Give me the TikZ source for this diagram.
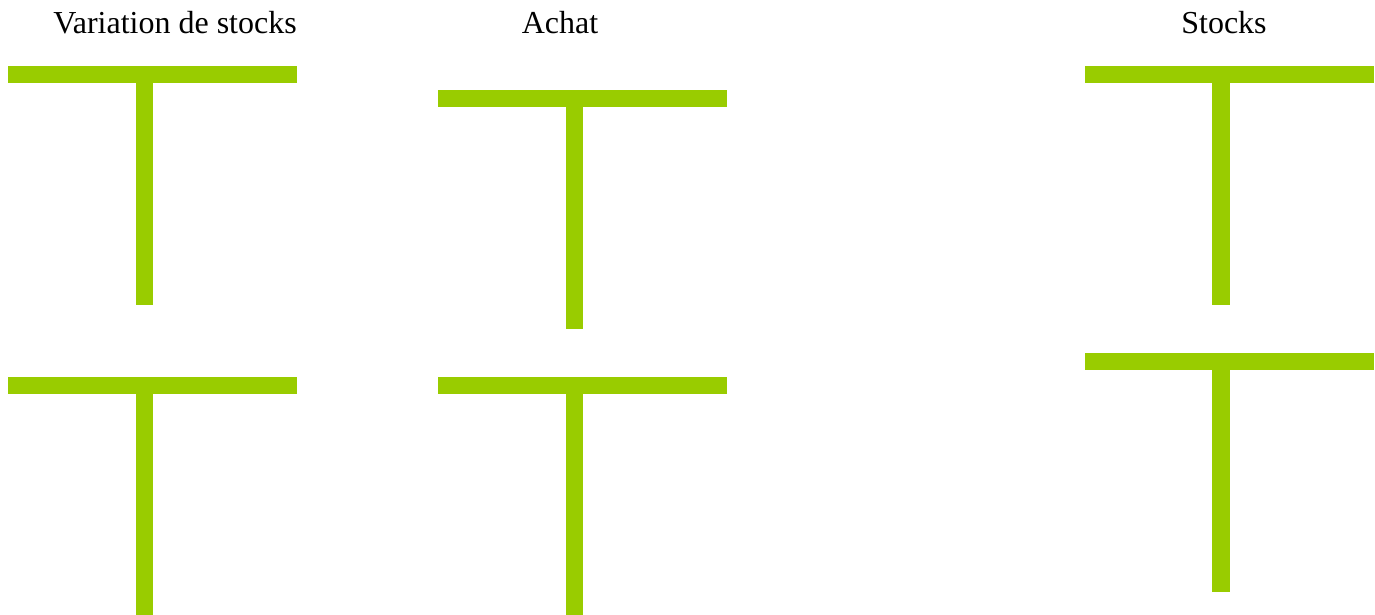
\documentclass[tikz,border=0pt]{standalone}
\usepackage{fontspec}
\setmainfont{Liberation Serif}
\usepackage{tikz}
\usetikzlibrary{positioning}

\definecolor{tgreen}{HTML}{99CC00}

\tikzset{
  title/.style={anchor=base, inner sep=0pt, font=\fontsize{32}{38}\selectfont},
  pics/taccount/.style={code={
    \fill[tgreen] (0,0) rectangle (289,17);
    \fill[tgreen] (127.5,17) rectangle (145,239);
  }}
}

\begin{document}
\begin{tikzpicture}[x=1pt,y=-1pt]
\useasboundingbox (0,0) rectangle (1375,615);
\clip (0,0) rectangle (1375,615);

% titles
\node[title] (varstock) at (175,34) {Variation de stocks};
\node[title] (achat) at (560,34) {Achat};
\node[title] (stocks) at (1224,34) {Stocks};

% upper accounts
\pic (t1) at (8,66) {taccount};
\pic (t2) at (438,90) {taccount};
\pic (t3) at (1084.5,66) {taccount};

% lower accounts
\pic (t4) at (8,377) {taccount};
\pic (t5) at (438,377) {taccount};
\pic (t6) at (1084.5,353) {taccount};
\end{tikzpicture}
\end{document}
